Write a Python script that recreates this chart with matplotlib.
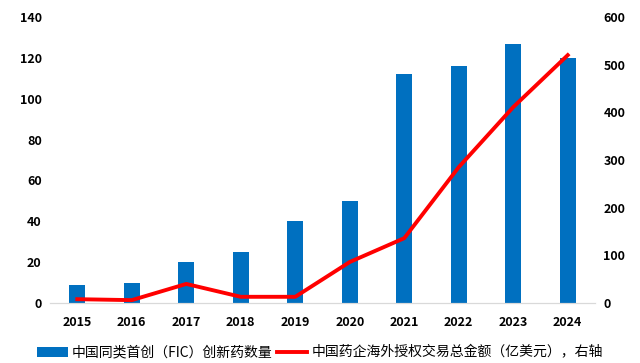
import matplotlib.pyplot as plt
import numpy as np

years = ['2015', '2016', '2017', '2018', '2019', '2020', '2021', '2022', '2023', '2024']
fic_counts = [9, 10, 20, 25, 40, 50, 112, 116, 127, 120]
licensing_usd = [8, 6, 40, 13, 13, 86, 136, 285, 411, 520]

plt.rcParams['font.family'] = ['Noto Sans CJK SC', 'DejaVu Sans']

fig = plt.figure(figsize=(6.4, 3.63), dpi=100)
ax = fig.add_axes([50 / 640, 60 / 363, 545 / 640, 286 / 363])
x = np.arange(len(years))

bars = ax.bar(x, fic_counts, width=0.3, color='#0070C0', label='中国同类首创（FIC）创新药数量', zorder=2)
ax.set_ylim(0, 140)
ax.set_yticks(range(0, 141, 20))
ax.set_xlim(-0.5, len(years) - 0.5)
ax.set_xticks(x)
ax.set_xticklabels(years)

ax2 = ax.twinx()
line, = ax2.plot(x, licensing_usd, color='#FF0000', linewidth=2.8, label='中国药企海外授权交易总金额（亿美元），右轴', zorder=3)
ax2.set_ylim(0, 600)
ax2.set_yticks(range(0, 601, 100))

for a in (ax, ax2):
    for s in ['top', 'left', 'right']:
        a.spines[s].set_visible(False)
    a.spines['bottom'].set_color('#D9D9D9')
    a.tick_params(length=0, labelsize=9)
    for lab in a.get_yticklabels() + a.get_xticklabels():
        lab.set_fontweight('bold')
ax.tick_params(axis='y', pad=6)
ax2.tick_params(axis='y', pad=6)
ax.tick_params(axis='x', pad=9)

fig.legend([bars, line], [bars.get_label(), line.get_label()], loc='lower center',
           bbox_to_anchor=(0.5, -0.025), ncol=2, frameon=False, fontsize=10,
           handlelength=2.2, columnspacing=0.3, handletextpad=0.3)

plt.savefig('out.png', dpi=100)
